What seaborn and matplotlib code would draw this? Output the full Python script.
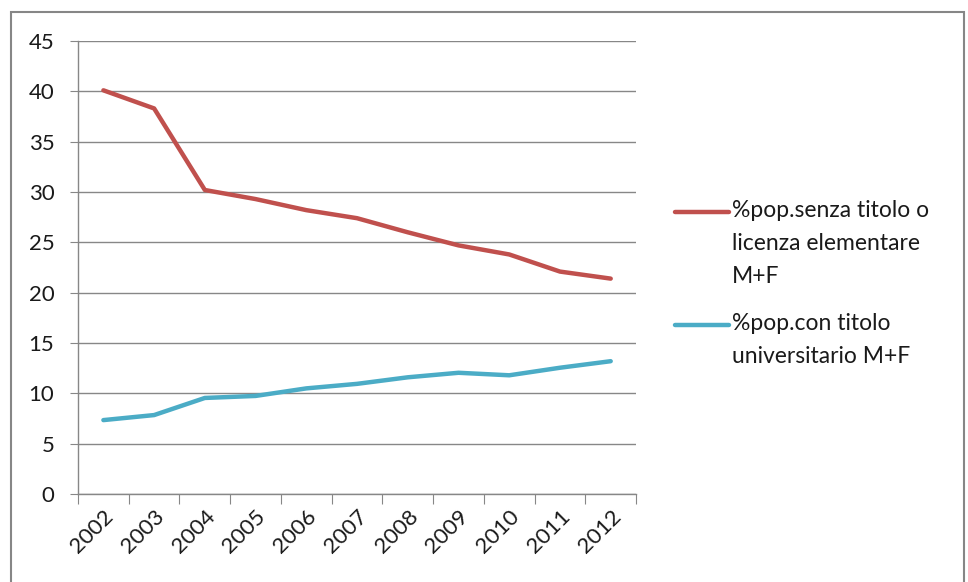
import numpy as np
import pandas as pd
import seaborn as sns
import matplotlib.pyplot as plt
from matplotlib.lines import Line2D
from matplotlib.patches import Rectangle

years = ["2002", "2003", "2004", "2005", "2006", "2007", "2008", "2009", "2010", "2011", "2012"]
senza_titolo = [40.1, 38.3, 30.2, 29.3, 28.2, 27.4, 26.0, 24.7, 23.8, 22.1, 21.4]
universitario = [7.35, 7.85, 9.55, 9.75, 10.5, 10.95, 11.6, 12.05, 11.8, 12.55, 13.2]
labels = ["%pop.senza titolo o\nlicenza elementare\nM+F",
          "%pop.con titolo\nuniversitario M+F"]
colors = ["#C0504D", "#4BACC6"]

df = pd.DataFrame({
    "pos": list(range(len(years))) * 2,
    "value": senza_titolo + universitario,
    "serie": [labels[0]] * len(years) + [labels[1]] * len(years),
})

sns.set_style("white")
plt.rcParams["font.family"] = ["Lato", "DejaVu Sans"]

fig = plt.figure(figsize=(9.68, 5.82), dpi=100)
ax = fig.add_axes([0.0806, 0.151, 0.5765, 0.7786])

sns.lineplot(data=df, x="pos", y="value", hue="serie", palette=colors,
             linewidth=3.2, legend=False, ax=ax)

grid_c = "#878787"
txt_c = "#1a1a1a"
ax.set_xlim(-0.5, len(years) - 0.5)
ax.set_ylim(0, 45)
ax.set_yticks(np.arange(0, 46, 5))
ax.yaxis.grid(True, color=grid_c, linewidth=1)
ax.set_axisbelow(True)
ax.set_xlabel("")
ax.set_ylabel("")

# category labels centred, tick marks on category boundaries
ax.set_xticks(np.arange(-0.5, len(years), 1))
ax.set_xticklabels([])
ax.set_xticks(range(len(years)), minor=True)
ax.set_xticklabels(years, minor=True, rotation=45, ha="right", rotation_mode="anchor")
ax.tick_params(axis="x", which="major", length=7, color=grid_c, direction="out", bottom=True)
ax.tick_params(axis="x", which="minor", length=0, labelsize=16, pad=9, labelcolor=txt_c)
ax.tick_params(axis="y", length=6, color=grid_c, direction="out", left=True,
               labelsize=16, pad=11, labelcolor=txt_c)

for side in ["top", "right"]:
    ax.spines[side].set_visible(False)
for side in ["left", "bottom"]:
    ax.spines[side].set_color(grid_c)
    ax.spines[side].set_linewidth(1)

# legend drawn by hand so the key lines up with the first text row
for lab, col, ytop in zip(labels, colors, [0.6357, 0.4416]):
    fig.add_artist(Line2D([0.697, 0.753], [ytop, ytop], color=col, linewidth=3.2,
                          solid_capstyle="round", transform=fig.transFigure))
    fig.text(0.756, ytop + 0.021, lab, fontsize=16.5, va="top", ha="left",
             linespacing=1.7, color=txt_c)

fig.add_artist(Rectangle((0.011, -0.01), 0.985, 0.99, transform=fig.transFigure,
                         fill=False, edgecolor="#868686", linewidth=1.5))

fig.savefig("out.png", dpi=100)
